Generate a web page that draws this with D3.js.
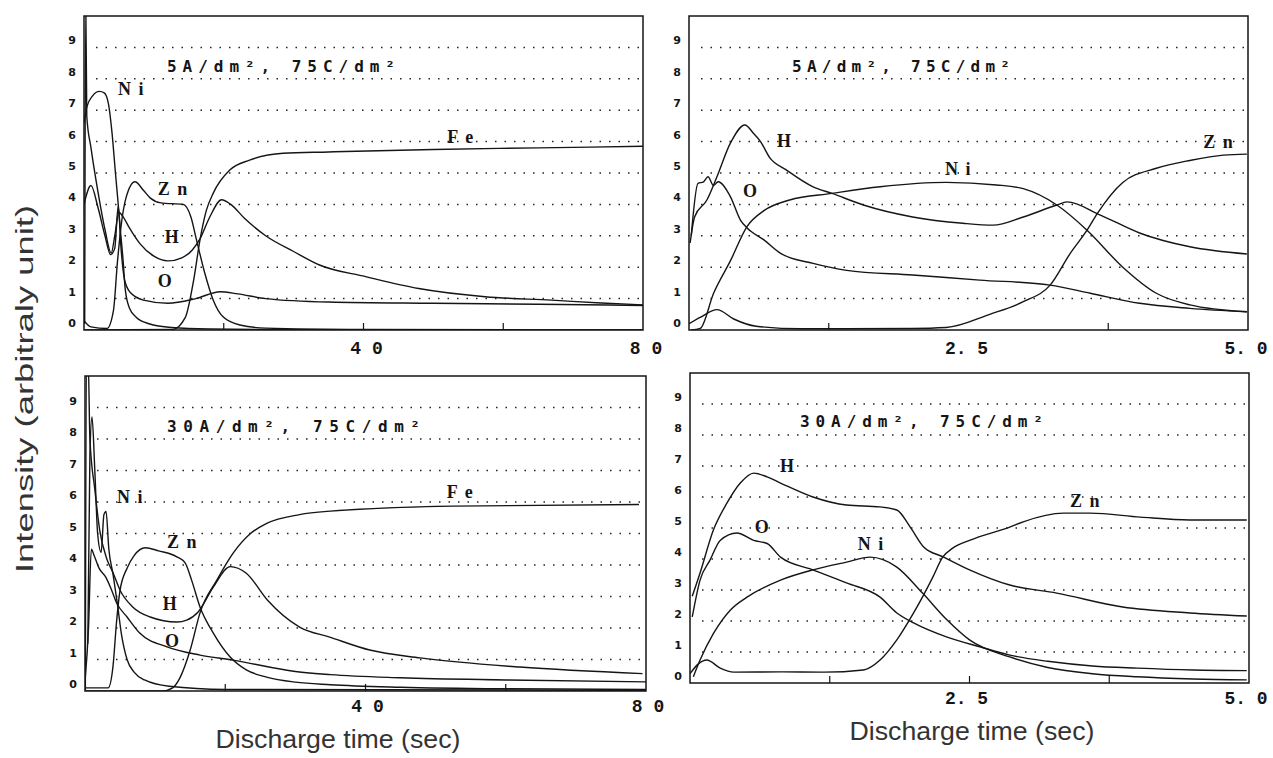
<!DOCTYPE html>
<html><head><meta charset="utf-8">
<script src="https://cdn.jsdelivr.net/npm/d3@7"></script>
<style>
html,body{margin:0;padding:0;background:#fff;}
svg{display:block;}
</style></head><body>
<svg id="chart" width="1273" height="758"></svg>
<script>
// ---------- condition titles ----------
const titles = ["5A/dm², 75C/dm²", "5A/dm², 75C/dm²", "30A/dm², 75C/dm²", "30A/dm², 75C/dm²"];

// ---------- axis ticks ----------
const yTickValues = [0, 1, 2, 3, 4, 5, 6, 7, 8, 9];
const longTicks = [20, 40, 60];
const longTickLabels = ["4 0", "8 0"];
const longTickLabelValues = [40, 80];
const shortTicksTop = [1.25, 3.75];
const shortTicksBottom = [1.25, 2.5, 3.75];
const shortTickLabels = ["2. 5", "5. 0"];
const shortTickLabelValues = [2.5, 5.0];

// ---------- 5 A/dm², 0–80 s ----------
const ni5Long = [[0,6.6],[0.4,7.1],[1.2,7.45],[2.2,7.6],[2.9,7.55],[3.5,7.2],[4.0,6.3],[4.5,5.0],[4.9,4.0],[5.2,3.2],[5.6,2.2],[5.9,1.3],[6.5,0.7],[7.5,0.4],[9.3,0.2],[12.5,0.08],[18,0.03],[30,0.01],[80,0.0]];
const h5Long = [[0.1,0.2],[0.25,10.5],[0.4,6.8],[1.0,5.8],[2.0,4.4],[3.0,3.2],[3.9,2.45],[4.4,3.0],[5.0,3.75],[5.6,3.6],[6.5,3.25],[8,2.75],[10,2.35],[12,2.2],[14,2.3],[15.5,2.55],[16.6,2.9],[18,3.6],[19.7,4.15],[21,4.0],[23,3.55],[26,3.0],[30,2.5],[33.7,2.07],[40.3,1.7],[47.9,1.32],[57.4,1.06],[66.9,0.95],[74,0.86],[80,0.8]];
const o5Long = [[0,4.0],[1,4.6],[2,3.9],[3,3.0],[3.8,2.4],[4.4,2.6],[4.9,3.95],[5.3,2.6],[5.8,1.6],[6.6,1.2],[8.5,0.95],[12,0.85],[16,1.0],[19.5,1.22],[22,1.15],[26,1.0],[35,0.89],[50,0.85],[65,0.82],[80,0.78]];
const zn5Long = [[0,0.3],[1,0.1],[3.3,0.05],[4.2,0.6],[4.8,2.2],[5.3,3.3],[6.0,4.2],[7.3,4.72],[8.5,4.45],[9.5,4.2],[11,4.05],[14.2,4.0],[15.3,3.6],[16.1,2.87],[17.3,1.8],[18.5,0.95],[19.9,0.42],[22.3,0.16],[26,0.06],[40,0.02],[80,0.0]];
const fe5Long = [[0,0],[12.7,0.02],[14.5,0.4],[15.7,1.6],[16.6,2.87],[17.5,3.8],[18.5,4.36],[20.9,5.1],[23.7,5.41],[28.5,5.63],[35,5.67],[50,5.75],[65,5.8],[80,5.85]];

// ---------- 5 A/dm², 0–5 s ----------
const h5Short = [[0.01,2.77],[0.05,3.6],[0.16,4.14],[0.25,4.88],[0.37,5.95],[0.5,6.53],[0.58,6.25],[0.64,6.0],[0.72,5.5],[0.87,5.1],[1.11,4.56],[1.28,4.35],[1.56,3.98],[2.0,3.6],[2.45,3.4],[2.72,3.34],[2.99,3.6],[3.29,3.98],[3.38,4.08],[3.68,3.66],[4.03,3.09],[4.48,2.65],[4.99,2.42]];
const ni5Short = [[0.02,0.0],[0.1,0.05],[0.22,1.17],[0.37,2.2],[0.52,3.3],[0.67,3.8],[0.9,4.14],[1.28,4.35],[1.71,4.56],[2.3,4.7],[2.75,4.62],[2.99,4.5],[3.29,3.98],[3.56,3.18],[3.88,2.0],[4.18,1.17],[4.48,0.8],[4.99,0.58]];
const o5Short = [[0.02,3.0],[0.08,4.67],[0.13,4.72],[0.17,4.88],[0.22,4.6],[0.26,4.72],[0.37,4.25],[0.46,3.5],[0.52,3.25],[0.67,2.87],[0.82,2.44],[1.11,2.12],[1.41,1.9],[2.0,1.75],[2.6,1.59],[3.23,1.43],[3.59,1.17],[4.03,0.85],[4.48,0.69],[4.99,0.58]];
const zn5Short = [[0.0,0.2],[0.1,0.4],[0.25,0.65],[0.4,0.35],[0.6,0.12],[1.0,0.04],[2.0,0.05],[2.3,0.08],[2.69,0.5],[2.99,0.9],[3.23,1.43],[3.41,2.44],[3.56,3.18],[3.65,3.7],[3.88,4.7],[4.18,5.15],[4.48,5.4],[4.78,5.57],[4.99,5.6]];

// ---------- 30 A/dm², 0–80 s ----------
const ni30Long = [[0.4,1.5],[0.7,7.5],[1.0,8.7],[1.4,7.0],[1.8,5.0],[2.3,4.4],[2.7,5.6],[3.0,5.7],[3.4,4.5],[4.0,3.7],[4.6,2.8],[5.2,1.8],[6.0,1.0],[7.0,0.6],[8.5,0.35],[12,0.15],[20,0.05],[80,0.02]];
const h30Long = [[0.05,0],[0.2,10.5],[0.45,10.5],[0.7,8.0],[1.4,6.4],[2.1,5.1],[3.1,4.2],[4.0,3.75],[5.0,3.2],[6.8,2.67],[9.3,2.35],[13.1,2.19],[14.5,2.25],[16.1,2.5],[18.3,3.3],[20.7,3.95],[23,3.74],[26,2.89],[30.6,2.03],[34.9,1.71],[40.6,1.3],[47.8,1.05],[62,0.76],[79.5,0.55]];
const o30Long = [[0,0.3],[0.5,2.0],[0.9,4.5],[1.3,4.3],[2.0,3.9],[3.0,3.6],[3.8,3.2],[4.5,2.8],[6,2.35],[7.8,1.84],[11.7,1.4],[16.4,1.14],[21.1,0.98],[30,0.62],[35,0.52],[45,0.42],[60,0.35],[80,0.29]];
const zn30Long = [[0,0.1],[3.3,0.1],[4.0,0.8],[4.5,2.2],[5.0,3.2],[6.0,3.9],[7.0,4.3],[8.6,4.55],[10.5,4.45],[13.1,4.26],[14.3,4.06],[15.2,3.52],[16.4,2.67],[18.3,1.84],[20.7,1.08],[23,0.67],[25.9,0.44],[30,0.28],[35,0.2],[45,0.12],[60,0.07],[80,0.05]];
const fe30Long = [[0,0],[11,0.0],[12.5,0.1],[13.5,0.4],[15,1.3],[16.4,2.48],[18.8,3.52],[21.1,4.37],[23.6,5.0],[25.9,5.32],[30.6,5.6],[35,5.71],[52.5,5.87],[79,5.92]];

// ---------- 30 A/dm², 0–5 s ----------
const h30Short = [[0.02,2.8],[0.09,3.55],[0.21,4.94],[0.33,5.8],[0.45,6.45],[0.57,6.77],[0.69,6.65],[0.81,6.45],[1.1,6.0],[1.4,5.74],[1.7,5.68],[1.85,5.58],[1.97,5.03],[2.09,4.39],[2.27,4.06],[2.5,3.65],[2.86,3.16],[3.28,2.9],[3.87,2.45],[4.47,2.26],[4.98,2.16]];
const o30Short = [[0.02,2.13],[0.09,3.32],[0.18,3.97],[0.27,4.6],[0.42,4.84],[0.57,4.6],[0.69,4.5],[0.81,4.06],[1.1,3.65],[1.4,3.23],[1.7,2.77],[1.85,2.26],[2.0,1.94],[2.3,1.48],[2.6,1.16],[2.86,0.9],[3.2,0.7],[3.6,0.55],[4.0,0.48],[4.5,0.42],[4.98,0.4]];
const ni30Short = [[0.03,0.2],[0.09,0.74],[0.21,1.6],[0.36,2.35],[0.51,2.77],[0.81,3.32],[1.1,3.65],[1.4,3.9],[1.61,4.06],[1.85,3.74],[2.08,2.9],[2.3,2.03],[2.5,1.39],[2.86,0.84],[3.2,0.5],[3.6,0.3],[4.0,0.2],[4.5,0.13],[4.98,0.1]];
const zn30Short = [[0.0,0.3],[0.07,0.6],[0.15,0.74],[0.27,0.48],[0.39,0.35],[0.8,0.36],[1.2,0.35],[1.55,0.42],[1.7,0.74],[1.85,1.39],[2.0,2.26],[2.17,3.4],[2.26,4.06],[2.35,4.35],[2.5,4.6],[2.86,5.03],[2.98,5.2],[3.34,5.48],[3.58,5.48],[4.03,5.35],[4.47,5.26],[4.98,5.26]];

// ---------- element label anchors (data units: time, intensity) ----------
const labels5Long = [["N i",4.86,7.48],["Z n",10.57,4.3],["H",11.57,2.77],["O",10.57,1.37],["F e",52,5.96]];
const labels5Short = [["H",0.787,5.83],["O",0.483,4.24],["N i",2.29,4.94],["Z n",4.6,5.8]];
const labels30Long = [["N i",4.56,5.97],["Z n",11.7,4.54],["H",11.1,2.57],["O",11.4,1.4],["F e",51.6,6.13]];
const labels30Short = [["H",0.805,6.8],["O",0.58,4.84],["N i",1.5,4.29],["Z n",3.4,5.68]];

// ---------- panel layout ----------
const layout = [
  {box:[84,16,643,330], dom:[0,80], ticks:longTicks, tl:longTickLabels, tv:longTickLabelValues, tlDx:3, tlY:354,
   series:[ni5Long,h5Long,o5Long,zn5Long,fe5Long], labels:labels5Long, title:titles[0], tX:83, tY:56, tW:228},
  {box:[689,16,1248,330], dom:[0,5], ticks:shortTicksTop, tl:shortTickLabels, tv:shortTickLabelValues, tlDx:-2, tlY:354,
   series:[h5Short,ni5Short,o5Short,zn5Short], labels:labels5Short, title:titles[1], tX:103, tY:56, tW:218},
  {box:[85,376,646,691], dom:[0,80], ticks:longTicks, tl:longTickLabels, tv:longTickLabelValues, tlDx:2, tlY:712,
   series:[ni30Long,h30Long,o30Long,zn30Long,fe30Long], labels:labels30Long, title:titles[2], tX:82, tY:56, tW:253},
  {box:[690,373,1249,683], dom:[0,5], ticks:shortTicksBottom, tl:shortTickLabels, tv:shortTickLabelValues, tlDx:-3, tlY:704,
   series:[h30Short,o30Short,ni30Short,zn30Short], labels:labels30Short, title:titles[3], tX:110, tY:54, tW:243}
];

const svg = d3.select("#chart");
const ink = "#151515";

layout.forEach((p, i) => {
  const [x0, y0, x1, y1] = p.box;
  const x = d3.scaleLinear().domain(p.dom).range([x0, x1]);
  const y = d3.scaleLinear().domain([0, 10]).range([y1, y0]);
  const g = svg.append("g");

  // dotted reference lines at each unit
  g.append("g").selectAll("line").data(yTickValues.filter(v => v > 0)).join("line")
    .attr("x1", x0 + 12).attr("x2", x1 - 2)
    .attr("y1", d => y(d)).attr("y2", d => y(d))
    .attr("stroke", "#222").attr("stroke-width", 1.5)
    .attr("stroke-dasharray", "1.5 8");

  // y tick labels sit a little above their lines
  g.append("g").selectAll("text").data(yTickValues).join("text")
    .attr("x", x0 - 8).attr("y", d => y(d) - 3)
    .attr("text-anchor", "end")
    .attr("font-family", "DejaVu Sans, sans-serif").attr("font-weight", "bold")
    .attr("font-size", 11).attr("fill", ink)
    .text(d => d);

  // inward ticks on the time axis
  g.append("g").selectAll("line").data(p.ticks).join("line")
    .attr("x1", d => x(d)).attr("x2", d => x(d))
    .attr("y1", y1).attr("y2", y1 - 7)
    .attr("stroke", ink).attr("stroke-width", 1.2);

  // time axis labels
  g.append("g").selectAll("text").data(p.tv).join("text")
    .attr("x", d => x(d) + p.tlDx).attr("y", p.tlY)
    .attr("text-anchor", "middle")
    .attr("font-family", "Liberation Mono, monospace").attr("font-weight", "bold")
    .attr("font-size", 18).attr("fill", ink)
    .attr("xml:space", "preserve")
    .text((d, k) => p.tl[k]);

  // curves, clipped to the frame
  const clipId = "clip" + i;
  svg.append("clipPath").attr("id", clipId).append("rect")
    .attr("x", x0).attr("y", y0).attr("width", x1 - x0).attr("height", y1 - y0);
  const line = d3.line().x(d => x(d[0])).y(d => y(d[1])).curve(d3.curveMonotoneX);
  g.append("g").attr("clip-path", `url(#${clipId})`)
    .selectAll("path").data(p.series).join("path")
    .attr("d", line).attr("fill", "none")
    .attr("stroke", ink).attr("stroke-width", 1.4).attr("stroke-linejoin", "round");

  // frame
  g.append("rect").attr("x", x0).attr("y", y0).attr("width", x1 - x0).attr("height", y1 - y0)
    .attr("fill", "none").attr("stroke", ink).attr("stroke-width", 1.5);

  // condition title
  g.append("text").attr("x", x0 + p.tX).attr("y", y0 + p.tY)
    .attr("font-family", "DejaVu Sans Mono, monospace").attr("font-weight", "bold")
    .attr("font-size", 16).attr("fill", ink)
    .attr("textLength", p.tW).attr("lengthAdjust", "spacing")
    .text(p.title);

  // element names
  g.append("g").selectAll("text").data(p.labels).join("text")
    .attr("x", d => x(d[1])).attr("y", d => y(d[2]))
    .attr("font-family", "Liberation Serif, serif").attr("font-weight", "bold")
    .attr("font-size", 18).attr("letter-spacing", 1.5).attr("fill", ink)
    .attr("xml:space", "preserve")
    .text(d => d[0]);
});

// shared axis titles
svg.append("text")
  .attr("transform", "translate(33,389) rotate(-90)")
  .attr("text-anchor", "middle")
  .attr("font-family", "Liberation Sans, Arial, sans-serif")
  .attr("font-size", 23).attr("fill", "#333")
  .attr("textLength", 368).attr("lengthAdjust", "spacingAndGlyphs")
  .text("Intensity (arbitraly unit)");

[[338, 748], [972, 740]].forEach(([cx, by]) => {
  svg.append("text")
    .attr("x", cx).attr("y", by)
    .attr("text-anchor", "middle")
    .attr("font-family", "Liberation Sans, Arial, sans-serif")
    .attr("font-size", 26).attr("fill", "#333")
    .attr("textLength", 245).attr("lengthAdjust", "spacingAndGlyphs")
    .text("Discharge time (sec)");
});
</script></body></html>
